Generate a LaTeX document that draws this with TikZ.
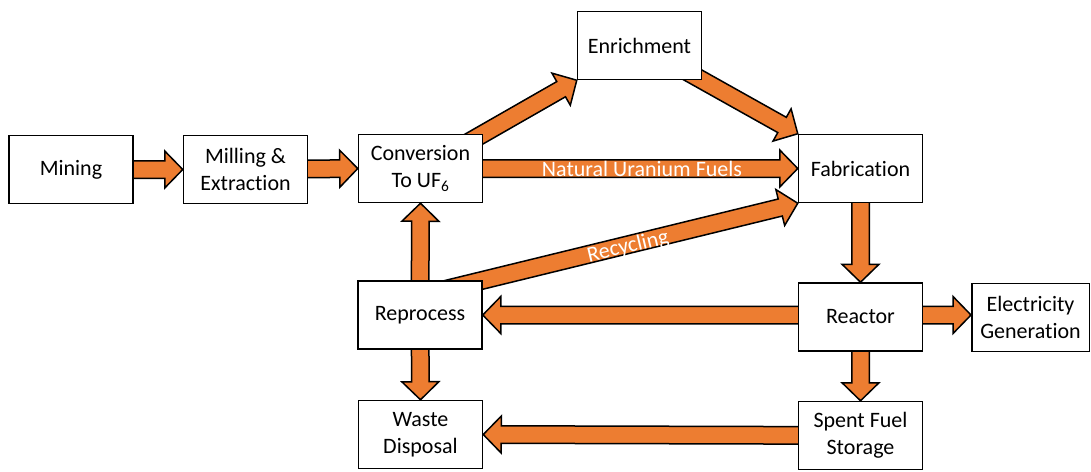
\documentclass[tikz,border=0pt]{standalone}
\usepackage{fontspec}
\setmainfont{Carlito}[Ligatures={NoCommon}]
\usetikzlibrary{calc,backgrounds}
\definecolor{arrorange}{HTML}{ED7D31}
\tikzset{
  box/.style={draw=black, line width=1.5pt, fill=white, minimum width=124pt, minimum height=68pt, inner sep=0pt, align=center, font=\fontsize{22}{27}\selectfont},
  fatarr/.style={draw=black, fill=arrorange, line width=1.5pt, line join=miter},
  arrlabel/.style={text=white, font=\fontsize{22}{26}\selectfont, inner sep=0pt}
}
\newcommand{\fatarrow}[2]{%
  \coordinate (fan) at ($(#2)!18pt!(#1)$);
  \draw[fatarr] ($(#1)!8.75pt!90:(#2)$) -- ($(fan)!8.75pt!-90:(#1)$) -- ($(fan)!18.5pt!-90:(#1)$) -- (#2) -- ($(fan)!18.5pt!90:(#1)$) -- ($(fan)!8.75pt!90:(#1)$) -- ($(#1)!8.75pt!-90:(#2)$) -- cycle;
}
\begin{document}
\begin{tikzpicture}[x=1pt,y=-1pt]
\useasboundingbox (0,0) rectangle (1091,471);
\node[box] (mining) at (71,169.5) {Mining};
\node[box] (milling) at (245.5,169.5) {Milling \&\\Extraction};
\node[box] (conv) at (420.5,168.5) {Conversion\\To UF\textsubscript{6}};
\node[box] (enr) at (639.5,45.5) {Enrichment};
\node[box] (fab) at (860.5,168.5) {Fabrication};
\node[box] (repro) at (420,315) {Reprocess};
\node[box] (reactor) at (860.5,317) {Reactor};
\node[box, minimum width=117.5pt] (elec) at (1030.5,317.5) {Electricity\\Generation};
\node[box] (waste) at (420.5,434.5) {Waste\\Disposal};
\node[box] (spent) at (860.5,435.5) {Spent Fuel\\Storage};
\begin{pgfonlayer}{background}
\fill[white] (0,0) rectangle (1091,471);
\coordinate (t1) at ($(conv.north east)!-20pt!(enr.south west)$);
\coordinate (t2) at ($(enr.south east)!-20pt!(fab.north west)$);
\coordinate (t3) at ($(repro.north east)!-45pt!(fab.south west)$);
\coordinate (r1) at (reactor.center |- repro.east);
\coordinate (r2) at (860.5,315);
\coordinate (e2) at (elec.west |- r2);
\fatarrow{mining.center}{milling.west}
\fatarrow{milling.center}{conv.west}
\fatarrow{conv.center}{fab.west}
\fatarrow{t1}{enr.south west}
\fatarrow{t2}{fab.north west}
\fatarrow{t3}{fab.south west}
\fatarrow{repro.center}{conv.south}
\fatarrow{repro.center}{waste.north}
\fatarrow{fab.center}{reactor.north}
\fatarrow{reactor.center}{spent.north}
\fatarrow{r1}{repro.east}
\fatarrow{r2}{e2}
\fatarrow{spent.center}{waste.east}
\end{pgfonlayer}
\node[arrlabel] (lblnat) at (642,168.5) {Natural Uranium Fuels};
\node[arrlabel, rotate=13.5] (lblrec) at (628,247) {Recycling};
\end{tikzpicture}
\end{document}
